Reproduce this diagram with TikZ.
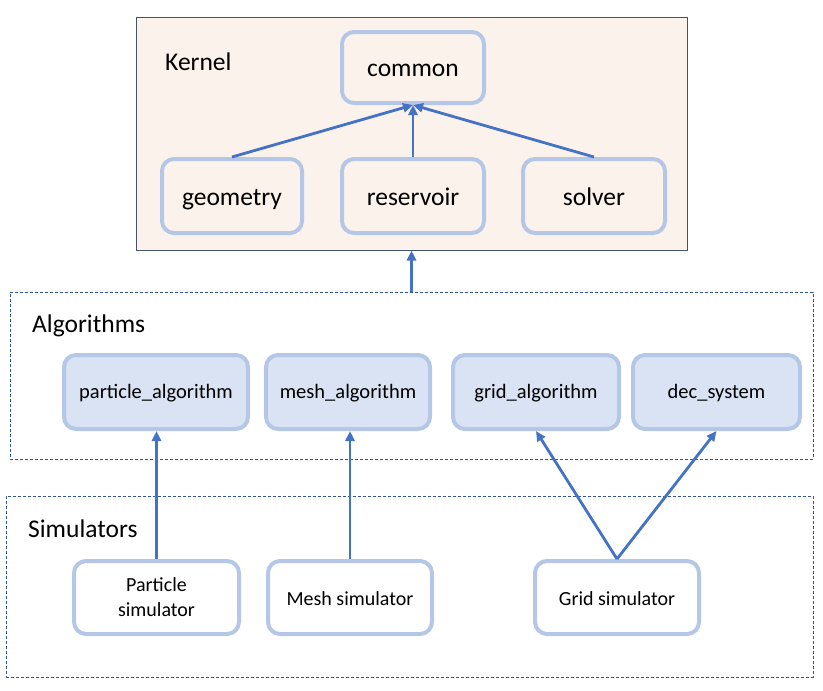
\documentclass[tikz,border=0pt]{standalone}
\usepackage{fontspec}
\setmainfont{Carlito}
\usetikzlibrary{arrows.meta}
\definecolor{peach}{HTML}{FBF2EC}
\definecolor{kborder}{HTML}{44546A}
\definecolor{nborder}{HTML}{B4C7E7}
\definecolor{algfill}{HTML}{DAE3F3}
\definecolor{arrowblue}{HTML}{4472C4}
\definecolor{dashblue}{HTML}{2F5597}
\tikzset{
  kbox/.style={draw=nborder, line width=4pt, rounded corners=12pt, fill=peach,
    minimum height=74pt, text height=18pt, text depth=0pt, font=\fontsize{25.5}{30}\selectfont},
  abox/.style={draw=nborder, line width=4pt, rounded corners=12pt, fill=algfill,
    minimum height=74pt, text height=12pt, text depth=0pt, font=\fontsize{20.5}{24}\selectfont},
  sbox/.style={draw=nborder, line width=4pt, rounded corners=12pt, fill=white,
    minimum height=73pt, align=center, font=\fontsize{20}{25}\selectfont},
  group/.style={draw=dashblue, line width=1pt, dash pattern=on 3pt off 2pt},
  arr/.style={draw=arrowblue, line width=2.8pt, -{Triangle[length=10pt,width=9pt]}},
  lbl/.style={anchor=west, inner sep=0pt, font=\fontsize{25.5}{30}\selectfont}
}
\begin{document}
\begin{tikzpicture}[x=1pt,y=-1pt]
\useasboundingbox (0,0) rectangle (823,691);
% group boxes
\node[draw=kborder, line width=1pt, fill=peach, minimum width=551pt, minimum height=233pt, inner sep=0pt] (kernel) at (411.5,133.5) {};
\node[group, minimum width=803pt, minimum height=167pt, inner sep=0pt] (alg) at (411.5,375.5) {};
\node[group, minimum width=807pt, minimum height=181pt, inner sep=0pt] (sim) at (409.5,586.5) {};
% labels
\node[lbl] (kernellbl) at (165,62) {Kernel};
\node[lbl] (alglbl) at (32,326) {Algorithms};
\node[lbl] (simlbl) at (28,529) {Simulators};
% kernel nodes
\node[kbox, minimum width=142pt, minimum height=71pt] (common) at (413,67.5) {common};
\node[kbox, minimum width=140pt] (geometry) at (232,196) {geometry};
\node[kbox, minimum width=142pt] (reservoir) at (413,196) {reservoir};
\node[kbox, minimum width=142pt] (solver) at (594,196) {solver};
% algorithm nodes
\node[abox, minimum width=184pt] (palg) at (156,392) {particle\_algorithm};
\node[abox, minimum width=164pt] (malg) at (348,392) {mesh\_algorithm};
\node[abox, minimum width=166pt] (galg) at (536,392) {grid\_algorithm};
\node[abox, minimum width=167pt] (dalg) at (716.5,392) {dec\_system};
% simulator nodes
\node[sbox, minimum width=165pt, text depth=-5pt] (psim) at (156.5,597.5) {Particle\\simulator};
\node[sbox, minimum width=164pt, text height=15pt, text depth=0pt] (msim) at (350,597.5) {Mesh simulator};
\node[sbox, minimum width=164pt, text height=15pt, text depth=0pt] (gsim) at (617,597.5) {Grid simulator};
% connectors
\draw[arr] (geometry.north) -- (common.south);
\draw[arr] (reservoir.north) -- (common.south);
\draw[arr] (solver.north) -- (common.south);
\draw[arr] (alg.north) -- (kernel.south);
\draw[arr] (psim.north) -- (psim.north |- palg.south);
\draw[arr] (msim.north) -- (msim.north |- malg.south);
\draw[arr] (gsim.north) -- (galg.south);
\draw[arr] (gsim.north) -- (dalg.south);
\end{tikzpicture}
\end{document}
